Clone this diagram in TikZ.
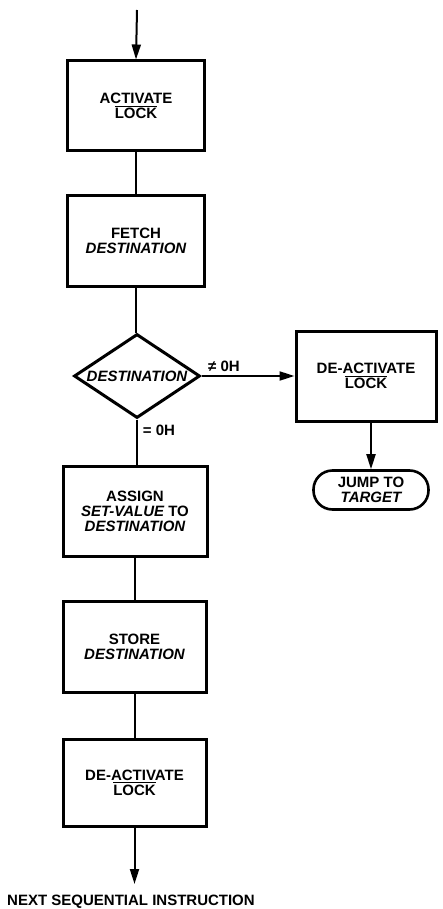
\documentclass[tikz,border=0pt]{standalone}
\usepackage{fontspec}
\setmainfont{Liberation Sans}
\usetikzlibrary{arrows.meta,shapes.geometric}
\newcommand{\ovl}[1]{\leavevmode\vbox{\hrule height 1.2pt\kern 1.2pt\hbox{#1}}}
\begin{document}
\begin{tikzpicture}[x=1pt,y=-1pt,
  every node/.style={font=\fontsize{15}{15}\selectfont\bfseries},
  box/.style={draw,line width=3pt,inner sep=0pt,align=center},
  conn/.style={line width=2pt},
  arr/.style={line width=2pt,-{Triangle[length=15pt,width=9pt]}},
  lbl/.style={inner sep=0pt}]
\useasboundingbox (0,0) rectangle (443,909);
\fill[white] (0,0) rectangle (443,909);
\node[box,minimum width=137pt,minimum height=90pt] (act) at (136,106) {ACTIVATE\\\ovl{LOCK}};
\node[box,minimum width=137pt,minimum height=90pt] (fetch) at (136,241) {FETCH\\\itshape DESTINATION};
\node[draw,diamond,line width=3pt,inner sep=0pt,minimum width=126pt,minimum height=84pt] (dia) at (137,376) {};
\node[lbl] (diatext) at (dia.center) {\itshape DESTINATION};
\node[box,minimum width=140pt,minimum height=90pt] (rdeact) at (366,376) {DE-ACTIVATE\\\ovl{LOCK}};
\node[draw,line width=2.6pt,rounded corners=19pt,inner sep=0pt,align=center,minimum width=115pt,minimum height=39pt] (jump) at (371,490) {JUMP TO\\\itshape TARGET};
\node[box,minimum width=144pt,minimum height=90pt] (asg) at (135,511) {ASSIGN\\{\itshape SET-VALUE} TO\\\itshape DESTINATION};
\node[box,minimum width=143pt,minimum height=91pt] (store) at (134.5,646.5) {STORE\\\itshape DESTINATION};
\node[box,minimum width=143pt,minimum height=87pt] (deact) at (134.5,782.5) {DE-ACTIVATE\\\ovl{LOCK}};
\node[lbl] (next) at (131,902) {NEXT SEQUENTIAL INSTRUCTION};
\coordinate (start) at (137,10);
\coordinate (nend) at (134.5,884);
\draw[arr] (start) -- (act.north);
\draw[conn] (act.south) -- (fetch.north);
\draw[conn] (fetch.south) -- (fetch.south |- dia.north);
\draw[arr] (dia.east) -- (rdeact.west);
\draw[conn] (dia.south) -- (dia.south |- asg.north);
\draw[arr] (rdeact.south -| jump.north) -- (jump.north);
\draw[conn] (asg.south -| store.north) -- (store.north);
\draw[conn] (store.south) -- (deact.north);
\draw[arr] (deact.south) -- (nend);
\node[lbl] (ne) at (224,366) {≠ 0H};
\node[lbl] (eq) at (159,430) {= 0H};
\end{tikzpicture}
\end{document}
